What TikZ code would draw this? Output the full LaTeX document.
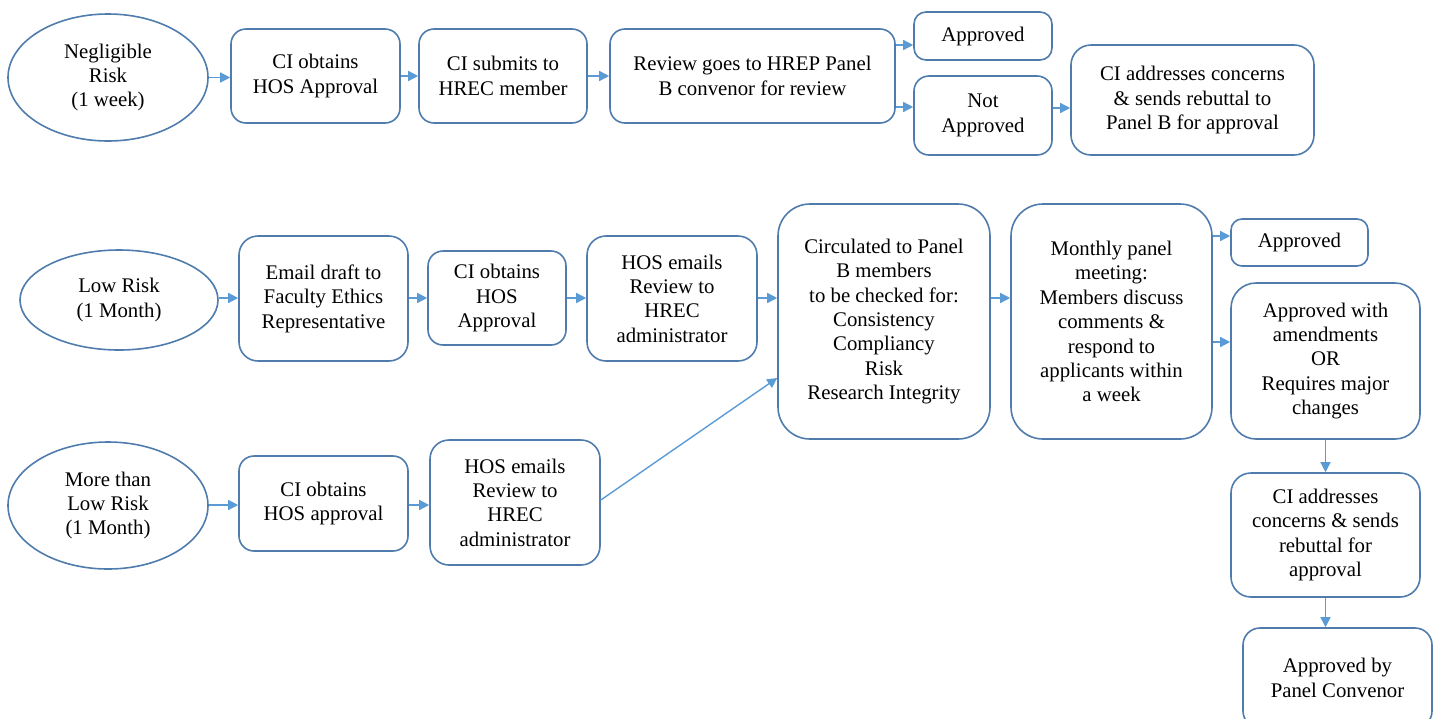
\documentclass[tikz,border=0pt]{standalone}
\usepackage{fontspec}
\setmainfont{Liberation Serif}
\usetikzlibrary{arrows.meta,calc,shapes.geometric}
\definecolor{boxline}{RGB}{79,124,172}
\definecolor{arrowc}{RGB}{91,155,213}
\tikzset{
  txt/.style={align=center, inner sep=0pt, font=\fontsize{20.8}{24.4}\selectfont, text=black},
  box/.style={txt, draw=boxline, line width=1.6pt, rounded corners=#1},
  box/.default=15pt,
  oval/.style={txt, draw=boxline, line width=1.6pt, ellipse},
  arr/.style={draw=arrowc, line width=1.4pt, -{Triangle[length=10pt,width=10pt]}}
}
\begin{document}
\begin{tikzpicture}[x=1pt,y=-1pt]
\useasboundingbox (0,0) rectangle (1439,718);
% top row
\node[oval, minimum width=200pt, minimum height=127pt] (neg) at (108,77.5) {Negligible\\Risk\\(1 week)};
\node[box, minimum width=169pt, minimum height=94pt] (t1) at (315.5,76) {CI obtains\\HOS Approval};
\node[box, minimum width=168pt, minimum height=94pt] (t2) at (503,76) {CI submits to\\HREC member};
\node[box, minimum width=285pt, minimum height=94pt] (t3) at (752.5,76) {Review goes to HREP Panel\\B convenor for review};
\node[box=12pt, minimum width=138pt, minimum height=48pt] (tapp) at (983,36) {Approved};
\node[box, minimum width=138pt, minimum height=79pt] (tnot) at (983,115.5) {Not\\Approved};
\node[box=20pt, minimum width=243pt, minimum height=110pt] (tci) at (1192.5,100) {CI addresses concerns\\\& sends rebuttal to\\Panel B for approval};
% middle row
\node[oval, minimum width=198pt, minimum height=100pt] (low) at (119,300) {Low Risk\\(1 Month)};
\node[box=19pt, minimum width=169pt, minimum height=125pt] (m1) at (323.5,298.5) {Email draft to\\Faculty Ethics\\Representative};
\node[box, minimum width=138pt, minimum height=94pt] (m2) at (497,298) {CI obtains\\HOS\\Approval};
\node[box=19pt, minimum width=170pt, minimum height=125pt] (m3) at (672,298.5) {HOS emails\\Review to\\HREC\\administrator};
\node[box=32pt, minimum width=212pt, minimum height=235pt] (circ) at (884,321.5) {Circulated to Panel\\B members\\to be checked for:\\Consistency\\Compliancy\\Risk\\Research Integrity};
\node[box=32pt, minimum width=201pt, minimum height=235pt] (month) at (1111.5,321.5) {Monthly panel\\meeting:\\Members discuss\\comments \&\\respond to\\applicants within\\a week};
\node[box=11pt, minimum width=137pt, minimum height=47pt] (mapp) at (1299.5,242.5) {Approved};
\node[box=25pt, minimum width=189pt, minimum height=156pt] (amend) at (1325.5,361) {Approved with\\amendments\\OR\\Requires major\\changes};
\node[box=20pt, minimum width=189pt, minimum height=124pt] (ci2) at (1325.5,535) {CI addresses\\concerns \& sends\\rebuttal for\\approval};
\node[box=17pt, minimum width=189pt, minimum height=100pt] (conv) at (1337.5,678) {Approved by\\Panel Convenor};
% bottom row
\node[oval, minimum width=200pt, minimum height=127pt] (more) at (108,505.5) {More than\\Low Risk\\(1 Month)};
\node[box, minimum width=169pt, minimum height=95pt] (b1) at (323.5,503.5) {CI obtains\\HOS approval};
\node[box=19pt, minimum width=170pt, minimum height=125pt] (b2) at (515,502.5) {HOS emails\\Review to\\HREC\\administrator};
% connectors top
\draw[arr] (neg.east) -- (neg.east -| t1.west);
\draw[arr] (t1.east) -- (t1.east -| t2.west);
\draw[arr] (t2.east) -- (t2.east -| t3.west);
\draw[arr] (t3.east |- 0,45) -- (tapp.west |- 0,45);
\draw[arr] (t3.east |- 0,107) -- (tnot.west |- 0,107);
\draw[arr] (tnot.east |- 0,108) -- (tci.west |- 0,108);
% connectors middle
\draw[arr] (low.east |- 0,298) -- (m1.west |- 0,298);
\draw[arr] (m1.east |- 0,298) -- (m2.west |- 0,298);
\draw[arr] (m2.east |- 0,298) -- (m3.west |- 0,298);
\draw[arr] (m3.east |- 0,298) -- (circ.west |- 0,298);
\draw[arr] (circ.east |- 0,298) -- (month.west |- 0,298);
\draw[arr] (month.east |- 0,236) -- (mapp.west |- 0,236);
\draw[arr] (month.east |- 0,342) -- (amend.west |- 0,342);
\draw[arr] (amend.south) -- (ci2.north);
\draw[arr] (ci2.south) -- (ci2.south |- conv.north);
% connectors bottom
\draw[arr] (more.east |- 0,505) -- (b1.west |- 0,505);
\draw[arr] (b1.east |- 0,505) -- (b2.west |- 0,505);
\draw[arr] (b2.east |- 0,500) -- (circ.west |- 0,378);
\end{tikzpicture}
\end{document}
